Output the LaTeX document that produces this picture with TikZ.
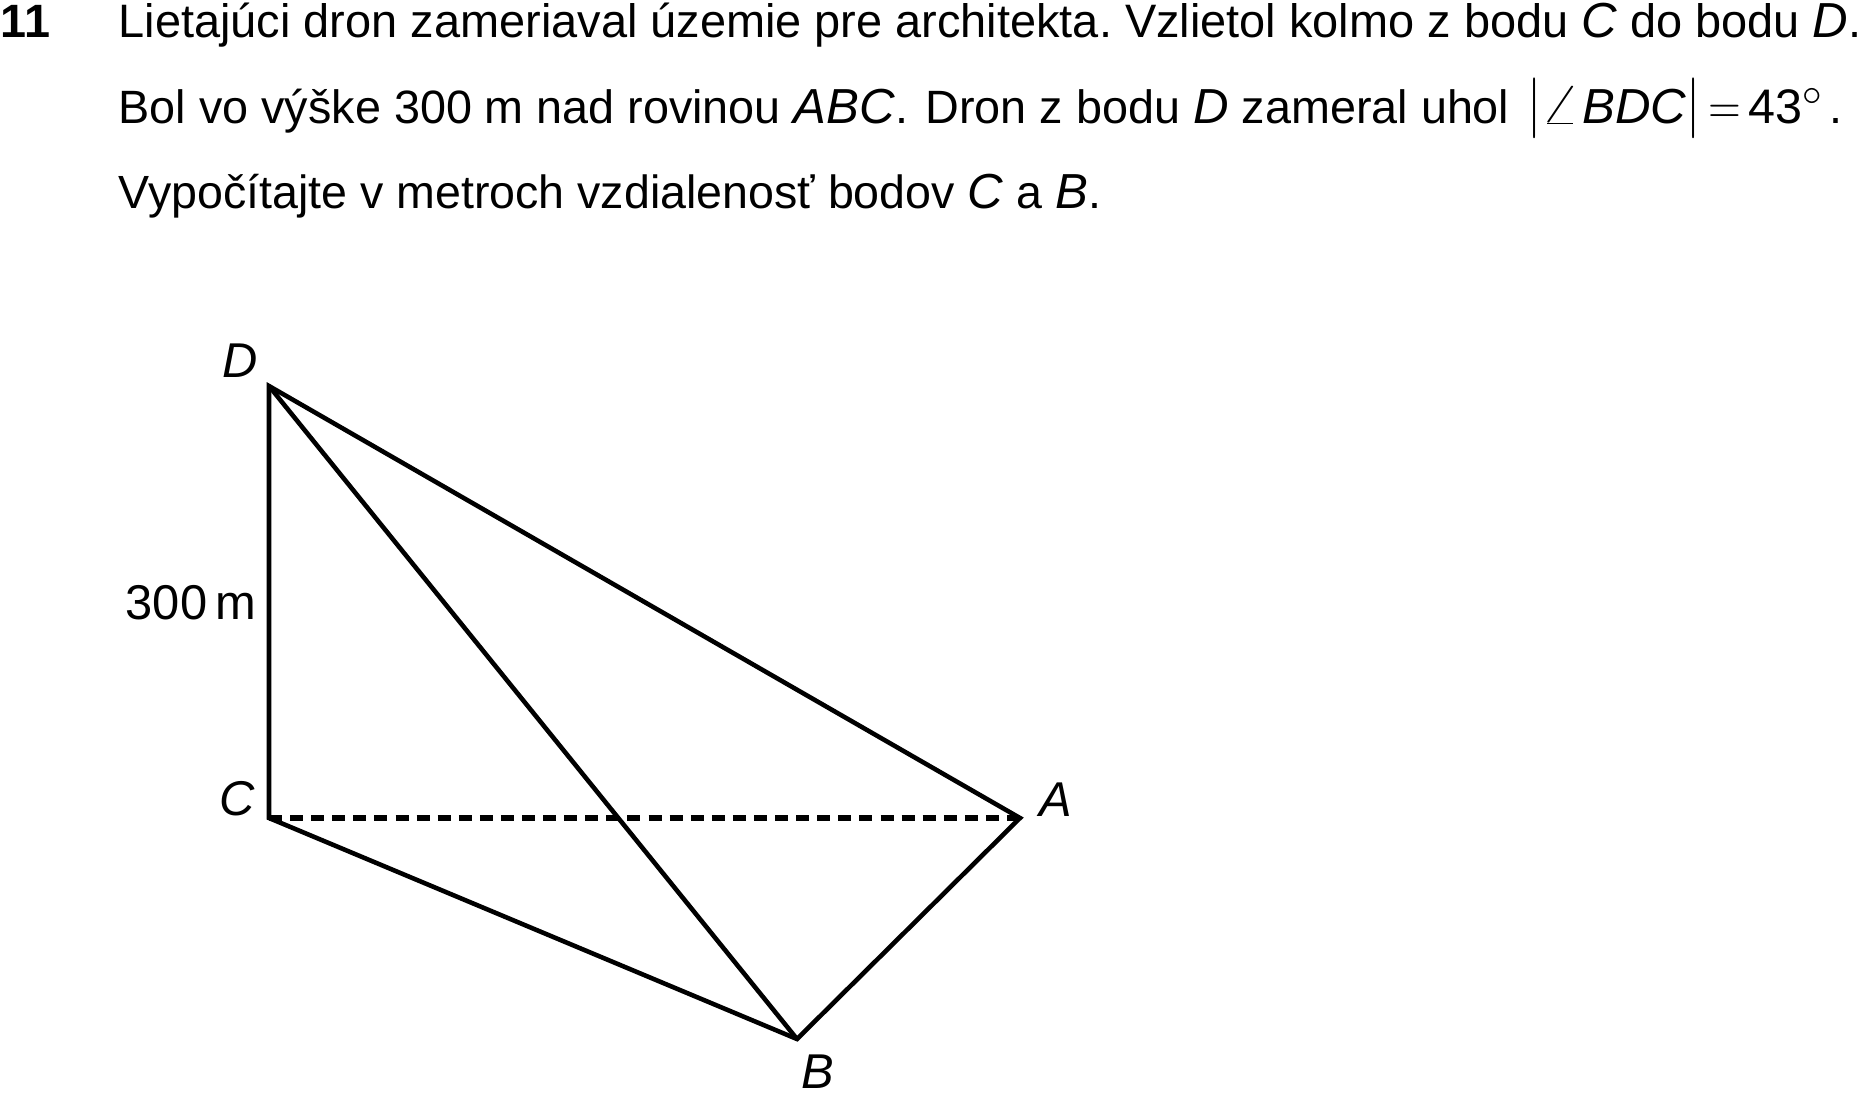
\documentclass[tikz,border=0pt]{standalone}
\usepackage{fontspec}
\setmainfont{Liberation Sans}
\usepackage{tikz}

\newcommand{\mv}[1]{{\fontsize{14}{16}\selectfont\itshape #1}}
\newcommand{\tallbar}{\scalebox{1}[1.2]{$\big|$}}

\begin{document}
\frenchspacing
\begin{tikzpicture}
        \tikzstyle{every node}+=[inner sep=0pt, anchor=base west, font=\fontsize{13.3}{16}\selectfont]
        \tikzstyle{edge}=[black, line width=1.3pt]
        \tikzstyle{vertex}=[font=\fontsize{13.9}{16}\selectfont\itshape]
        \useasboundingbox (0,-10.93) rectangle (18.58,0);
        % text
        \node (num) at (0,-0.37) {\textbf{11}};
        \node [font=\fontsize{13.35}{16}\selectfont] (row1) at (1.18,-0.37) {Lietajúci dron zameriaval územie pre architekta. Vzlietol kolmo z bodu \mv{C} do bodu \mv{D}.};
        \node (row2) at (1.18,-1.23) {Bol vo výške 300\,\hspace{1.4pt}m nad rovinou \mv{ABC}.\hspace{1.3pt} Dron z bodu \mv{D} zameral uhol \hspace{1.5pt}\tallbar\hspace{-0.5pt}\raisebox{-0.3pt}{\scalebox{1.6}[1.25]{$\angle$}}\hspace{0.5pt}\mv{BDC}\tallbar\hspace{2.5pt}\scalebox{0.85}[1]{$=$}\hspace{2pt}{\fontsize{13.8}{16}\selectfont 43}\raisebox{-1.4pt}{\scalebox{1.2}{$^{\circ}$}}\hspace{1.5pt}.};
        \node [font=\fontsize{13.25}{16}\selectfont] (row3) at (1.18,-2.08) {Vypočítajte v metroch vzdialenosť bodov \mv{C} a \mv{B}.};
        % points
        \coordinate (D) at (2.69,-3.86);
        \coordinate (C) at (2.69,-8.18);
        \coordinate (A) at (10.20,-8.18);
        \coordinate (B) at (7.97,-10.39);
        % labels
        \node [vertex] (labD) at (2.22,-3.77) {D};
        \node [vertex] (labC) at (2.19,-8.15) {C};
        \node [vertex] (labA) at (10.39,-8.16) {A};
        \node [vertex] (labB) at (8.01,-10.88) {B};
        \node [font=\fontsize{13.9}{16}\selectfont] (lab300) at (1.25,-6.19) {300\,m};
        % edges
        \draw [edge] (D) -- (A) -- (B) -- (C) -- cycle;
        \draw [edge] (D) -- (B);
        \draw [edge, line width=1.45pt, dash pattern=on 3.7pt off 2.3pt] (C) -- (A);
\end{tikzpicture}
\end{document}
